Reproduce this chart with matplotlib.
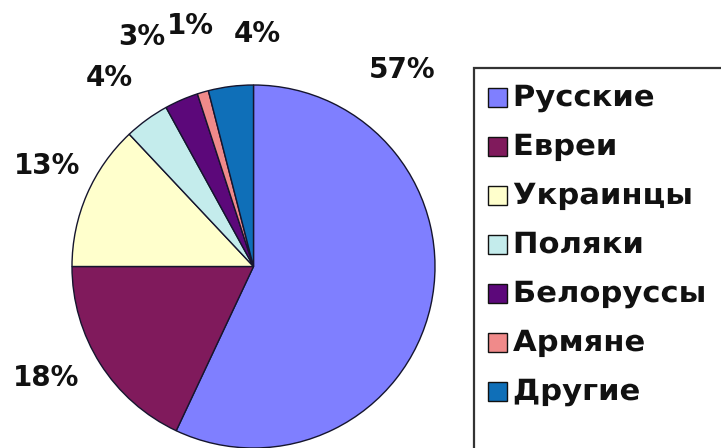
import numpy as np
import matplotlib
matplotlib.use('Agg')
import matplotlib.pyplot as plt
from matplotlib.patches import Rectangle
from matplotlib.patheffects import AbstractPathEffect
from matplotlib.transforms import Affine2D

# данные с картинки
groups = ['Русские', 'Евреи', 'Украинцы', 'Поляки', 'Белоруссы', 'Армяне', 'Другие']
shares = [57, 18, 13, 4, 3, 1, 4]
colors = ['#7f7fff', '#801a5c', '#ffffcc', '#c4ecec', '#5c087a', '#f08a8a', '#0f6fb8']

# сдвиг подписей от середины сектора, px (dx, dy вверх)
label_shift = [(-82, 248), (-8, 15), (10, 7), (-5, -2), (-18, 13), (3, 14), (33, -2)]

W, H = 721, 448
cx, cy, r = 253.5, 181.5, 181.5


class Stretch(AbstractPathEffect):
    # растягивает текст по горизонтали, как в исходной картинке
    def __init__(self, sx, anchor='center'):
        super().__init__()
        self.sx = sx
        self.anchor = anchor

    def draw_path(self, renderer, gc, tpath, affine, rgbFace=None):
        ext = tpath.get_extents()
        x0 = ext.x0 if self.anchor == 'left' else (ext.x0 + ext.x1) / 2
        st = Affine2D().translate(-x0, 0).scale(self.sx, 1).translate(x0, 0)
        renderer.draw_path(gc, tpath, st + affine, rgbFace)


fig = plt.figure(figsize=(W / 100, H / 100), dpi=100)
ax = fig.add_axes([0, 0, 1, 1])

wedges, _ = ax.pie(shares, colors=colors, startangle=90, counterclock=False,
                   center=(cx, cy), radius=r,
                   wedgeprops=dict(edgecolor='#15152e', linewidth=1.0))
ax.set_xlim(0, W)
ax.set_ylim(0, H)
ax.set_aspect('equal')
ax.axis('off')

for w, s, (dx, dy) in zip(wedges, shares, label_shift):
    ang = np.deg2rad((w.theta1 + w.theta2) / 2)
    x = cx + 1.3 * r * np.cos(ang) + dx
    y = cy + 1.3 * r * np.sin(ang) + dy
    ax.text(x, y, f'{s}%', ha='center', va='center', fontsize=20,
            fontweight='bold', color='#111111')

# легенда вручную: рамка уходит за край картинки
ax.add_patch(Rectangle((474, -10), 300, H - 68 + 10, fill=False,
                       edgecolor='#333333', lw=1.6))
for i, (g, c) in enumerate(zip(groups, colors)):
    yc = H - 98 - i * 49
    ax.add_patch(Rectangle((488, yc - 9), 19, 19, facecolor=c,
                           edgecolor='#111111', lw=1))
    ax.text(513, yc, g, ha='left', va='center', fontsize=21, fontweight='bold',
            color='#111111', path_effects=[Stretch(1.05, 'left')])

fig.savefig('out.png', dpi=100)
